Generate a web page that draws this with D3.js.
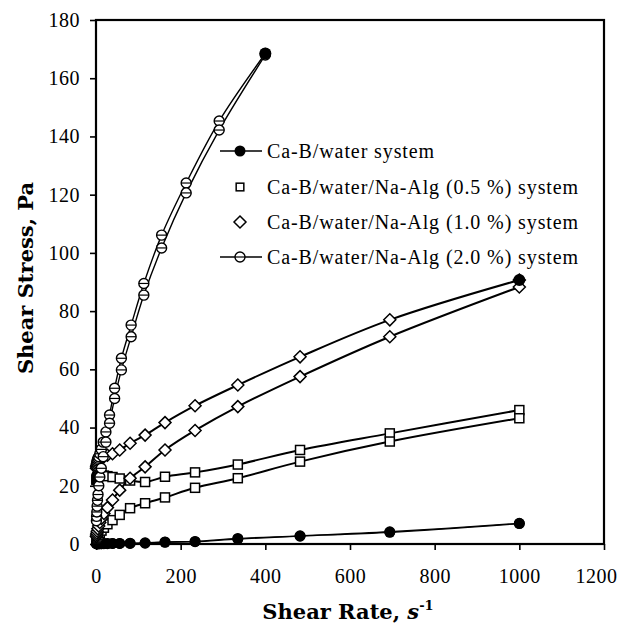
<!DOCTYPE html>
<html>
<head>
<meta charset="utf-8">
<script src="https://cdn.jsdelivr.net/npm/d3@7"></script>
<style>
  body { margin: 0; background: #fff; }
  svg { display: block; }
</style>
</head>
<body>
<svg id="chart" width="624" height="625"></svg>
<script>
// Shear rates (s^-1) used for the water, 0.5 % and 1.0 % runs
const shearRatesA = [1.0, 1.45, 2.1, 3.0, 4.3, 6.3, 9.0, 13, 18.7, 27, 39, 56, 80.5, 116, 163, 234, 335, 482, 694, 1000];
// Shear rates (s^-1) used for the 2.0 % run
const shearRatesB = [1.0, 1.4, 1.9, 2.6, 3.5, 4.8, 6.6, 9.1, 12.5, 17, 23.4, 32, 44, 60, 83, 113, 155, 213, 291, 400];

// Shear stress (Pa), upper and lower branches of each hysteresis loop
const waterUpper = [0.1, 0.1, 0.1, 0.1, 0.1, 0.1, 0.1, 0.1, 0.2, 0.2, 0.2, 0.2, 0.3, 0.4, 0.7, 0.9, 1.9, 2.8, 4.2, 7.1];
const waterLower = [0.1, 0.1, 0.1, 0.1, 0.1, 0.1, 0.1, 0.1, 0.1, 0.1, 0.2, 0.2, 0.2, 0.3, 0.6, 0.8, 1.7, 2.7, 4.0, 7.0];
const alg05Upper = [22.0, 22.3, 22.6, 22.9, 23.2, 23.4, 23.6, 23.6, 23.5, 23.3, 23.0, 22.5, 21.8, 21.3, 23.1, 24.6, 27.3, 32.3, 38.0, 46.0];
const alg05Lower = [1.4, 1.6, 1.9, 2.2, 2.6, 3.2, 3.8, 4.6, 5.6, 6.8, 8.2, 10.0, 12.3, 14.0, 16.0, 19.3, 22.6, 28.3, 35.2, 43.2];
const alg10Upper = [26, 26.5, 27, 27.5, 28, 28.5, 29, 29.5, 30, 30.5, 31, 32.3, 34.6, 37.4, 41.7, 47.5, 54.6, 64.3, 77.0, 90.7];
const alg10Lower = [2.6, 3.1, 3.7, 4.4, 5.2, 6.2, 7.4, 8.8, 10.5, 12.5, 15.1, 18.5, 22.6, 26.5, 32.3, 39.0, 47.2, 57.5, 71.2, 88.3];
const alg20Upper = [27, 27.5, 28, 28.5, 29, 29.5, 30, 31, 32.5, 35, 38.5, 44.3, 53.5, 63.8, 75.2, 89.5, 106.1, 124, 145.3, 168.5];
const alg20Lower = [8, 9.5, 11, 13, 15, 17, 20, 23, 26, 30, 35, 41.5, 50, 59.8, 71.2, 85.5, 101.7, 120.6, 142.2, 168.0];

const seriesNames = [
  "Ca-B/water system",
  "Ca-B/water/Na-Alg (0.5 %) system",
  "Ca-B/water/Na-Alg (1.0 %) system",
  "Ca-B/water/Na-Alg (2.0 %) system"
];

const xTicks = [0, 200, 400, 600, 800, 1000, 1200];
const yTicks = [0, 20, 40, 60, 80, 100, 120, 140, 160, 180];

const series = [
  { name: seriesNames[0], rates: shearRatesA, branches: [waterUpper, waterLower], marker: "dot",     lineWidth: 1.3, legendLine: true,  peakDot: false },
  { name: seriesNames[1], rates: shearRatesA, branches: [alg05Upper, alg05Lower], marker: "square",  lineWidth: 2.0, legendLine: false, peakDot: false },
  { name: seriesNames[2], rates: shearRatesA, branches: [alg10Upper, alg10Lower], marker: "diamond", lineWidth: 2.0, legendLine: false, peakDot: true },
  { name: seriesNames[3], rates: shearRatesB, branches: [alg20Upper, alg20Lower], marker: "ring",    lineWidth: 1.4, legendLine: true,  peakDot: true }
];

const svg = d3.select("#chart");
const x = d3.scaleLinear().domain([0, 1200]).range([96, 604]);
const y = d3.scaleLinear().domain([0, 180]).range([544, 20]);

const serif = "'Liberation Serif', 'Times New Roman', serif";
const titleFont = "'DejaVu Serif', serif";

// Axes
const xAxis = svg.append("g")
  .attr("transform", `translate(0,${y(0)})`)
  .call(d3.axisBottom(x).tickValues(xTicks).tickSize(6).tickSizeOuter(0).tickPadding(19).tickFormat(d3.format("d")));
const yAxis = svg.append("g")
  .attr("transform", `translate(${x(0)},0)`)
  .call(d3.axisLeft(y).tickValues(yTicks).tickSize(6).tickSizeOuter(0).tickPadding(10).tickFormat(d3.format("d")));

[xAxis, yAxis].forEach(g => {
  g.select(".domain").remove();
  g.selectAll(".tick line").attr("stroke", "#000").attr("stroke-width", 1.6);
  g.selectAll(".tick text")
    .attr("fill", "#000")
    .style("font-family", serif)
    .style("font-size", "20px")
    .style("letter-spacing", "0.5px");
});
// keep the last x label inside the canvas
xAxis.selectAll(".tick text").filter(d => d === 1200)
  .attr("text-anchor", "end").attr("x", 13);

// Plot frame
svg.append("rect")
  .attr("x", x(0)).attr("y", y(180))
  .attr("width", x(1200) - x(0)).attr("height", y(0) - y(180))
  .attr("fill", "none").attr("stroke", "#000").attr("stroke-width", 2.2);

// Axis titles
const xTitle = svg.append("text")
  .attr("x", 348).attr("y", 619)
  .attr("text-anchor", "middle")
  .style("font-family", titleFont).style("font-weight", "bold").style("font-size", "21px");
xTitle.append("tspan").text("Shear Rate, ");
xTitle.append("tspan").style("font-style", "italic").text("s");
xTitle.append("tspan").attr("dy", -9).style("font-size", "13px").text("-1");

svg.append("text")
  .attr("transform", "translate(33,278) rotate(-90)")
  .attr("text-anchor", "middle")
  .style("font-family", titleFont).style("font-weight", "bold").style("font-size", "21px")
  .text("Shear Stress, Pa");

// Marker drawing
function drawMarker(g, kind, cx, cy, scale = 1) {
  if (kind === "dot") {
    g.append("circle").attr("cx", cx).attr("cy", cy).attr("r", 5.5 * scale).attr("fill", "#000");
  } else if (kind === "square") {
    const s = 9 * scale;
    g.append("rect").attr("x", cx - s / 2).attr("y", cy - s / 2).attr("width", s).attr("height", s)
      .attr("fill", "#fff").attr("stroke", "#000").attr("stroke-width", 1.5);
  } else if (kind === "diamond") {
    const h = 6 * scale;
    g.append("path").attr("d", `M${cx},${cy - h}L${cx + h},${cy}L${cx},${cy + h}L${cx - h},${cy}Z`)
      .attr("fill", "#fff").attr("stroke", "#000").attr("stroke-width", 1.5);
  } else if (kind === "ring") {
    g.append("circle").attr("cx", cx).attr("cy", cy).attr("r", 5 * scale)
      .attr("fill", "#fff").attr("stroke", "#000").attr("stroke-width", 1.4);
    g.append("line").attr("x1", cx - 5 * scale).attr("x2", cx + 5 * scale).attr("y1", cy).attr("y2", cy)
      .attr("stroke", "#000").attr("stroke-width", 1.2);
  }
}

const line = d3.line().curve(d3.curveCatmullRom.alpha(0.5)).x(d => x(d[0])).y(d => y(d[1]));

const lineLayer = svg.append("g");
const markerLayer = svg.append("g");

series.forEach(s => {
  s.branches.forEach(vals => {
    const pts = s.rates.map((r, i) => [r, vals[i]]);
    lineLayer.append("path").attr("d", line(pts))
      .attr("fill", "none").attr("stroke", "#000").attr("stroke-width", s.lineWidth);
  });
});

series.forEach(s => {
  s.branches.forEach(vals => {
    s.rates.forEach((r, i) => {
      drawMarker(markerLayer, s.marker, x(r), y(vals[i]));
    });
  });
  if (s.peakDot) {
    const last = s.rates.length - 1;
    markerLayer.append("circle")
      .attr("cx", x(s.rates[last])).attr("cy", y(s.branches[0][last]))
      .attr("r", 6).attr("fill", "#000");
  }
});

// Legend
const legend = svg.append("g");
const legendRows = [151, 187, 222, 257];
series.forEach((s, i) => {
  const ly = legendRows[i];
  if (s.legendLine) {
    legend.append("line").attr("x1", 220).attr("x2", 262).attr("y1", ly).attr("y2", ly)
      .attr("stroke", "#000").attr("stroke-width", 1.6);
  }
  drawMarker(legend, s.marker, 240, ly, s.marker === "square" ? 0.85 : 1);
  legend.append("text")
    .attr("x", 267).attr("y", ly).attr("dy", "0.33em")
    .style("font-family", serif).style("font-size", "20px").style("letter-spacing", "0.9px")
    .text(s.name);
});
</script>
</body>
</html>
